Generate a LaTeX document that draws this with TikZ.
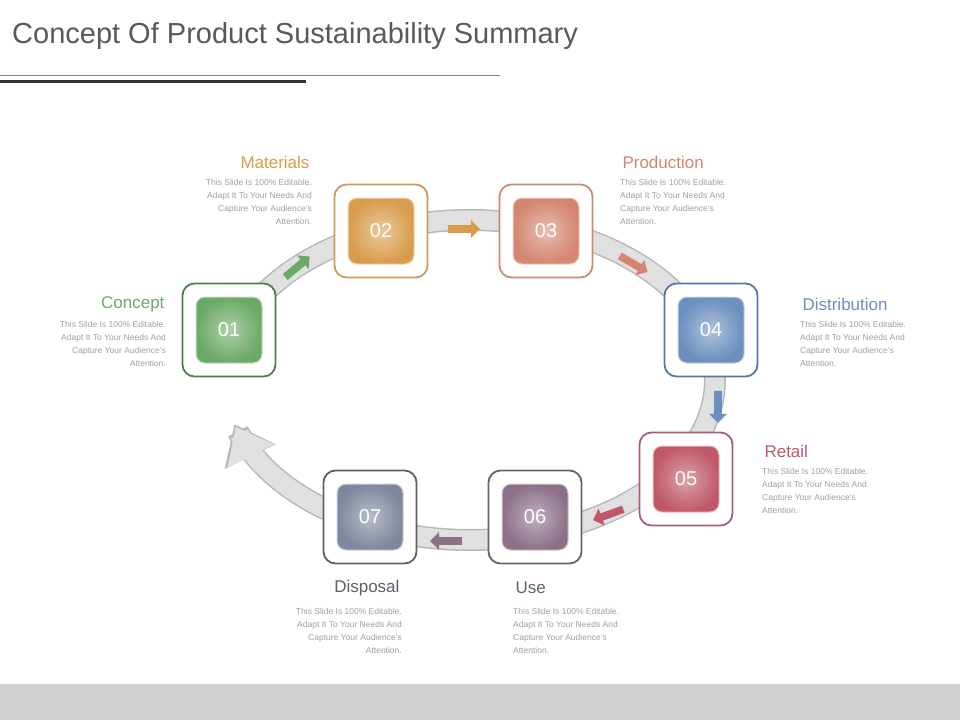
\documentclass[tikz,border=0pt]{standalone}
\usepackage{fontspec}
\setmainfont{Liberation Sans}
\usetikzlibrary{arrows.meta,shapes.arrows}
\definecolor{cgreen}{HTML}{6BA966}\definecolor{bgreen}{HTML}{4E7E4A}
\definecolor{corange}{HTML}{D89C4C}\definecolor{borange}{HTML}{CC9A5C}
\definecolor{cpeach}{HTML}{D48670}\definecolor{bpeach}{HTML}{C98A78}
\definecolor{cblue}{HTML}{6B8FBE}\definecolor{bblue}{HTML}{5876A4}
\definecolor{cred}{HTML}{C05868}\definecolor{bred}{HTML}{A8606C}
\definecolor{cpurp}{HTML}{8C7088}\definecolor{bpurp}{HTML}{6E5E6E}
\definecolor{cgrey}{HTML}{7F879E}\definecolor{bgrey}{HTML}{5E5E6C}
\tikzset{
 outer/.style={draw=#1,line width=1.8pt,rounded corners=12pt,minimum size=93pt,fill=white},
 inner/.style={rounded corners=9pt,minimum size=66pt,inner color=#1!55!white,outer color=#1,draw=#1!40!white,line width=1pt,text=white,font=\fontsize{20}{20}\selectfont},
 ttl/.style={font=\fontsize{17}{17}\selectfont,text=#1},
 body/.style={font=\fontsize{8.5}{13}\selectfont,text=black!38,inner sep=0pt},
 sarrow/.style={single arrow,fill=#1,minimum width=18pt,single arrow head extend=3pt,minimum height=32pt,inner sep=2pt}
}
\newcommand{\bodytxt}{This Slide Is 100\% Editable.\\Adapt It To Your Needs And\\Capture Your Audience's\\Attention.}
\begin{document}
\begin{tikzpicture}[x=1pt,y=-1pt]
\useasboundingbox (0,0) rectangle (960,720);
\fill[black!18] (0,684) rectangle (960,720);
\node[anchor=west,text=black!65,font=\fontsize{29}{29}\selectfont,inner sep=0pt] (title) at (12,36) {Concept Of Product Sustainability Summary};
\draw[black!50,line width=0.8pt] (0,75) -- (500,75);
\draw[black!80,line width=3pt] (0,81) -- (306,81);
% ring
\draw[black!28,line width=22pt,-{Triangle[length=36pt,width=54pt]}] plot[domain=185:524,samples=120] ({470+245*cos(\x)},{380+160*sin(\x)});
\draw[black!12,line width=19pt,-{Triangle[length=33pt,width=50pt]}] plot[domain=185:523,samples=120] ({470+245*cos(\x)},{380+160*sin(\x)});
% small arrows
\node[sarrow=cgreen,rotate=40] (a1) at (296,268) {};
\node[sarrow=corange,rotate=0] (a2) at (462,229) {};
\node[sarrow=cpeach,rotate=-30] (a3) at (632,263) {};
\node[sarrow=cblue,rotate=-90] (a4) at (718,405) {};
\node[sarrow=cred,rotate=200] (a5) at (610,514) {};
\node[sarrow=cpurp,rotate=180] (a6) at (448,541) {};
% boxes
\foreach \n/\x/\y/\c/\b in {01/229/330/cgreen/bgreen,02/381/231/corange/borange,03/546/231/cpeach/bpeach,04/711/330/cblue/bblue,05/686/479/cred/bred,06/535/517/cpurp/bpurp,07/370/517/cgrey/bgrey}{
 \node[outer=\b] (o\n) at (\x,\y) {};
 \node[inner=\c] (i\n) at (\x,\y) {\n};
}
% labels
\node[ttl=cgreen,anchor=east] (t1) at (168,304) {Concept};
\node[body,anchor=north east,align=right] (b1) at (166,321) {\bodytxt};
\node[ttl=corange,anchor=east] (t2) at (313,162) {Materials};
\node[body,anchor=north east,align=right] (b2) at (312,179) {\bodytxt};
\node[ttl=cpeach,anchor=west] (t3) at (619,162) {Production};
\node[body,anchor=north west,align=left] (b3) at (620,179) {\bodytxt};
\node[ttl=cblue,anchor=west] (t4) at (799,304) {Distribution};
\node[body,anchor=north west,align=left] (b4) at (800,321) {\bodytxt};
\node[ttl=cred,anchor=west] (t5) at (761,451) {Retail};
\node[body,anchor=north west,align=left] (b5) at (762,468) {\bodytxt};
\node[ttl=bpurp,anchor=west] (t6) at (512,588) {Use};
\node[body,anchor=north west,align=left] (b6) at (513,608) {\bodytxt};
\node[ttl=bgrey,anchor=east] (t7) at (403,588) {Disposal};
\node[body,anchor=north east,align=right] (b7) at (402,608) {\bodytxt};
\end{tikzpicture}
\end{document}
